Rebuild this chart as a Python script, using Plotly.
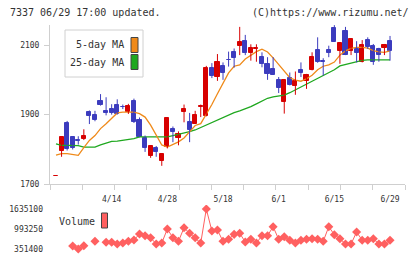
import plotly.graph_objects as go

# ---------------- data ----------------
date_labels = ["4/14", "4/28", "5/18", "6/1", "6/15", "6/29"]
date_label_index = [10, 20, 30, 40, 50, 60]

opens = [1723,
         1797, 1877, 1837, 1826, 1831, 1909, 1900, 1938, 1911, 1917,
         1929, 1923, 1908, 1940, 1886, 1833, 1781, 1803, 1767, 1808,
         1860, 1832, 1907, 1878, 1874, 1923, 1895, 2035, 2009, 2040,
         2058, 2079, 2098, 2111, 2078, 2088, 2065, 2045, 2031, 2000,
         1935, 2005, 1981, 2029, 1997, 2027, 2086, 2054, 2086, 2148,
         2084, 2141, 2084, 2089, 2050, 2114, 2097, 2089, 2092, 2111]
highs = [1723,
         1837, 1882, 1837, 1838, 1858, 1912, 1911, 1959, 1950, 1930,
         1944, 1929, 1931, 1946, 1892, 1840, 1809, 1810, 1786, 1891,
         1866, 1852, 1929, 1905, 1911, 1929, 2040, 2048, 2074, 2050,
         2081, 2090, 2152, 2129, 2102, 2102, 2079, 2065, 2065, 2008,
         2000, 2021, 2024, 2050, 2017, 2079, 2122, 2062, 2098, 2157,
         2105, 2152, 2119, 2111, 2114, 2122, 2103, 2092, 2103, 2126]
lows = [1723,
        1779, 1797, 1800, 1814, 1827, 1873, 1881, 1926, 1898, 1900,
        1900, 1916, 1902, 1876, 1835, 1793, 1776, 1779, 1753, 1803,
        1821, 1812, 1878, 1821, 1874, 1893, 1895, 2005, 1997, 2000,
        2038, 2035, 2071, 2071, 2055, 2052, 2036, 2000, 2015, 1962,
        1903, 1984, 1957, 2008, 1974, 2027, 2049, 2012, 2065, 2110,
        2046, 2071, 2071, 2050, 2050, 2089, 2043, 2052, 2071, 2055]
closes = [1723,
          1837, 1800, 1805, 1824, 1840, 1895, 1886, 1927, 1905, 1905,
          1901, 1921, 1924, 1878, 1836, 1804, 1809, 1792, 1786, 1889,
          1850, 1845, 1917, 1855, 1900, 1925, 2035, 2012, 2050, 2021,
          2056, 2064, 2110, 2078, 2092, 2092, 2045, 2017, 2015, 1976,
          2000, 1984, 1997, 2021, 2014, 2065, 2052, 2050, 2078, 2110,
          2105, 2071, 2117, 2078, 2100, 2095, 2052, 2071, 2100, 2084]

ma5 = [1784,
       1788, 1788, 1786, 1783, 1805, 1826, 1840, 1860, 1874, 1889,
       1905, 1907, 1908, 1907, 1903, 1893, 1870, 1840, 1813, 1807,
       1814, 1822, 1833, 1851, 1869, 1874, 1900, 1929, 1960, 1989,
       2020, 2039, 2043, 2060, 2071, 2081, 2088, 2080, 2063, 2043,
       2023, 2006, 1999, 1996, 2003, 2013, 2029, 2039, 2043, 2051,
       2071, 2083, 2090, 2093, 2093, 2091, 2084, 2080, 2079, 2083]
ma25 = [1816,
        1812, 1812, 1812, 1811, 1807, 1807, 1807, 1813, 1819, 1823,
        1824, 1826, 1827, 1831, 1836, 1836, 1836, 1836, 1836, 1836,
        1840, 1843, 1846, 1851, 1856, 1863, 1870, 1877, 1886, 1893,
        1900, 1906, 1911, 1916, 1923, 1931, 1938, 1947, 1951, 1953,
        1956, 1963, 1971, 1979, 1989, 1996, 2004, 2013, 2021, 2029,
        2040, 2044, 2049, 2051, 2056, 2057, 2057, 2057, 2057, 2057]

volumes = [None,
           None, None, 447700, 351400, 457300, None, 598500, None, 566400, 566400,
           511900, 544000, 598500, 640200, 832800, 778200, 714000, 511900, 544000, 993250,
           714000, 598500, 1035000, 855000, 714000, 544000, 1635100, 929000, 961000, 598500,
           662700, 822000, 855000, 576000, 662700, 544000, 778200, 778200, 1067000, 662700,
           746000, 630000, 544000, 630000, 662700, 682000, 662700, 598500, 1067000, 810000,
           682000, 511900, 511900, 897000, 630000, 630000, 682000, 511900, 511900, 630000]

price_ticks = [1700, 1900, 2100]
title_left = "7337 06/29 17:00 updated."
title_right = "(C)https://www.rizumu.net/"

# ---------------- styling / layout ----------------
W, H = 420, 259
ML, MR, MT, MB = 50, 15, 25, 3
RED = "#d70000"
BLUE = "#3c3cbe"
ORANGE = "#ef8a1a"
GREEN = "#1fa81f"
VOLC = "#ff6060"
AXC = "#cfcfcf"
TXT = "#333333"
FONT = "DejaVu Sans Mono"


def px_x(px):
    return (px - ML) / (W - ML - MR)


def px_y(py):
    return (H - MB - py) / (H - MT - MB)


n = len(opens)
xs = list(range(n))
is_up = [c >= o for o, c in zip(opens, closes)]
colors = [RED if u else BLUE for u in is_up]
body_base = [min(o, c) for o, c in zip(opens, closes)]
body_h = [abs(c - o) for o, c in zip(opens, closes)]

fig = go.Figure()

# moving averages (drawn below candles)
fig.add_trace(go.Scatter(x=xs, y=ma25, mode="lines", name="25-day MA",
                         line=dict(color=GREEN, width=1.3), xaxis="x", yaxis="y",
                         hoverinfo="skip"))
fig.add_trace(go.Scatter(x=xs, y=ma5, mode="lines", name="5-day MA",
                         line=dict(color=ORANGE, width=1.3), xaxis="x", yaxis="y",
                         hoverinfo="skip"))

# wicks
for col, flag in ((RED, True), (BLUE, False)):
    wx, wy = [], []
    for i in xs:
        if is_up[i] == flag:
            wx += [i, i, None]
            wy += [lows[i], highs[i], None]
    fig.add_trace(go.Scatter(x=wx, y=wy, mode="lines", line=dict(color=col, width=1),
                             xaxis="x", yaxis="y", hoverinfo="skip"))

# bodies
fig.add_trace(go.Bar(x=xs, y=body_h, base=body_base, width=0.74,
                     marker=dict(color=colors, line=dict(color=colors, width=1)),
                     xaxis="x", yaxis="y", hoverinfo="skip"))

# volume
fig.add_trace(go.Scatter(x=xs, y=volumes, mode="lines+markers", name="Volume",
                         line=dict(color=VOLC, width=1),
                         marker=dict(symbol="diamond", size=7, color=VOLC),
                         connectgaps=False, xaxis="x2", yaxis="y2", hoverinfo="skip"))

# axes geometry
x_lo = (ML - 56.0) / 5.567
x_hi = (W - MR - 56.0) / 5.567
price_bottom_px = 184.3
price_dom = [px_y(price_bottom_px), 1.0]
price_top_val = price_ticks[0] + (price_bottom_px - MT) * (price_ticks[2] - price_ticks[0]) / (184.3 - 45.0)

vals = [v for v in volumes if v is not None]
vmin, vmax = min(vals), max(vals)
vmid = (vmin + vmax) / 2
vol_top_px, vol_bot_px = 205.0, H - MB
vmax_px, vmin_px = 209.0, 249.0
per_px = (vmax - vmin) / (vmin_px - vmax_px)
vol_range = [vmin - (vol_bot_px - vmin_px) * per_px, vmax + (vmax_px - vol_top_px) * per_px]
vol_dom = [0.0, px_y(vol_top_px)]

tickfont = dict(family=FONT, size=8, color=TXT)

fig.update_layout(
    width=W, height=H,
    margin=dict(l=ML, r=MR, t=MT, b=MB, autoexpand=False),
    paper_bgcolor="white", plot_bgcolor="white",
    showlegend=False, barmode="overlay", bargap=0,
    xaxis=dict(domain=[0, 1], anchor="y", range=[x_lo, x_hi], automargin=False,
               showline=True, linecolor=AXC, linewidth=1,
               ticks="outside", ticklen=5, tickcolor=AXC, tickwidth=1,
               tickmode="linear", tick0=x_lo, dtick=(x_hi - x_lo) / 11,
               showticklabels=False, showgrid=False, zeroline=False, fixedrange=True),
    yaxis=dict(domain=price_dom, anchor="x", range=[price_ticks[0], price_top_val],
               automargin=False,
               showline=True, linecolor=AXC, linewidth=1,
               ticks="outside", ticklen=5, tickcolor=AXC,
               tickvals=price_ticks, tickfont=tickfont, ticklabelstandoff=3,
               showgrid=False, zeroline=False, fixedrange=True),
    xaxis2=dict(domain=[0, 1], anchor="y2", range=[x_lo, x_hi], side="top",
                automargin=False,
                tickvals=date_label_index, ticktext=date_labels, tickfont=tickfont,
                showline=False, ticks="", showgrid=False, zeroline=False, fixedrange=True),
    yaxis2=dict(domain=vol_dom, anchor="x2", range=vol_range, automargin=False,
                tickvals=[vmin, vmid, vmax], tickformat="d", tickfont=tickfont,
                showline=False, ticks="", ticklabelstandoff=6,
                showgrid=False, zeroline=False, fixedrange=True),
)

# header texts
hfont = dict(family=FONT, size=10, color=TXT)
fig.add_annotation(x=px_x(8), y=px_y(12), xref="paper", yref="paper", text=title_left,
                   showarrow=False, xanchor="left", yanchor="middle", font=hfont)
fig.add_annotation(x=px_x(411), y=px_y(12), xref="paper", yref="paper", text=title_right,
                   showarrow=False, xanchor="right", yanchor="middle", font=hfont)

# price legend box
shapes = [dict(type="rect", xref="paper", yref="paper",
               x0=px_x(65), x1=px_x(143), y0=px_y(77), y1=px_y(30),
               line=dict(color="#d0d0d0", width=1), fillcolor="white", layer="above")]
legend_rows = [("5-day MA", ORANGE, 45.0), ("25-day MA", GREEN, 62.0)]
for label, col, cy in legend_rows:
    shapes.append(dict(type="rect", xref="paper", yref="paper",
                       x0=px_x(131), x1=px_x(138), y0=px_y(cy + 7.5), y1=px_y(cy - 7.5),
                       line=dict(color="#444444", width=1), fillcolor=col, layer="above"))
    fig.add_annotation(x=px_x(126), y=px_y(cy), xref="paper", yref="paper", text=label,
                       showarrow=False, xanchor="right", yanchor="middle", font=hfont)

# volume legend
shapes.append(dict(type="rect", xref="paper", yref="paper",
                   x0=px_x(101.5), x1=px_x(107.5), y0=px_y(228), y1=px_y(213),
                   line=dict(color="#444444", width=1), fillcolor=VOLC, layer="above"))
fig.add_annotation(x=px_x(57), y=px_y(221), xref="paper", yref="paper", text="Volume",
                   showarrow=False, xanchor="left", yanchor="middle", font=hfont)

fig.update_layout(shapes=shapes)

fig.write_html("out.html")
